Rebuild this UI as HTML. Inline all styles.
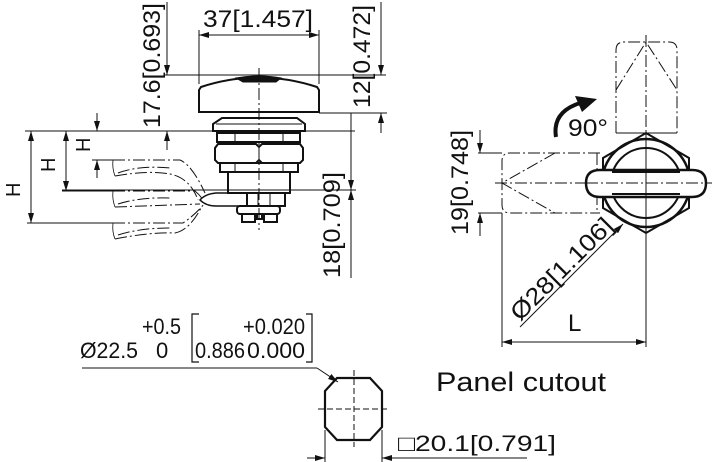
<!DOCTYPE html>
<html><head><meta charset="utf-8"><style>
html,body{margin:0;padding:0;background:#fff;}
svg{display:block;}
text{font-family:"Liberation Sans",sans-serif;fill:#111;}
</style></head><body>
<svg width="712" height="462" viewBox="0 0 712 462" xmlns="http://www.w3.org/2000/svg">
<defs>
<marker id="a" viewBox="0 0 10 6" refX="10" refY="3" markerWidth="10" markerHeight="6" orient="auto-start-reverse" markerUnits="userSpaceOnUse"><path d="M0,0 L10,3 L0,6 z" fill="#111"/></marker>
</defs>
<g stroke="#111" fill="none" stroke-width="1">
<line x1="259" y1="68" x2="259" y2="230" stroke-dasharray="12,3,2,3"/>
<line x1="164" y1="75" x2="386" y2="75"/>
<line x1="199" y1="30" x2="199" y2="84"/><line x1="319" y1="30" x2="319" y2="84"/>
<line x1="199" y1="35" x2="319" y2="35" marker-start="url(#a)" marker-end="url(#a)"/>
<line x1="319" y1="113" x2="387" y2="113"/>
<line x1="381" y1="2" x2="381" y2="75" marker-end="url(#a)"/>
<line x1="381" y1="133" x2="381" y2="113" marker-end="url(#a)"/>
<line x1="167" y1="2" x2="167" y2="75" marker-end="url(#a)"/>
<line x1="167" y1="150" x2="167" y2="131" marker-end="url(#a)"/>
<line x1="25" y1="131" x2="355" y2="131"/>
<line x1="62" y1="190" x2="356" y2="190"/>
<line x1="351" y1="113" x2="351" y2="190" marker-end="url(#a)"/>
<line x1="351" y1="278" x2="351" y2="190" marker-end="url(#a)"/>
<path d="M201,87 Q259,68 317,87 L319,90 L319,112 L199,112 L199,90 Z" stroke-width="2"/>
<path d="M236,78 Q259,74 281,78 L276,82 L243,82 Z" fill="#111" stroke-width="1"/>
<path d="M222,118 L297,118 L305,124 L305,131 L213,131 L213,124 Z" stroke-width="2"/>
<line x1="216" y1="124" x2="302" y2="124"/>
<rect x="217" y="133" width="83" height="9" stroke-width="2"/>
<line x1="235" y1="133" x2="235" y2="142"/><line x1="283" y1="133" x2="283" y2="142"/>
<path d="M218,144 L256,144 L259,147 L262,144 L300,144 L303,148 L303,160 L300,163 L262,163 L259,160 L256,163 L218,163 L215,160 L215,148 Z" stroke-width="2"/>
<rect x="220" y="163" width="78" height="9" stroke-width="2"/>
<line x1="235" y1="163" x2="235" y2="172"/><line x1="283" y1="163" x2="283" y2="172"/>
<rect x="228" y="172" width="62" height="21" stroke-width="2"/>
<rect x="247" y="193" width="38" height="13" stroke-width="2"/>
<line x1="258" y1="193" x2="258" y2="206"/><line x1="270" y1="193" x2="270" y2="206"/>
<rect x="237" y="206" width="43" height="8" rx="3" stroke-width="2"/>
<path d="M242,214 L242,222 L255,222 L255,214 M257,214 L257,219 L262,219 L262,214 M264,214 L264,222 L277,222 L277,214" stroke-width="2"/>
<path d="M246,193 L216,193 Q205,194 200,200 Q206,206 216,206 L246,206" stroke-width="1.5"/>
<line x1="97" y1="113" x2="97" y2="131" marker-end="url(#a)"/>
<line x1="97" y1="178" x2="97" y2="160" marker-end="url(#a)"/>
<line x1="92" y1="160" x2="115" y2="160"/>
<line x1="66" y1="131" x2="66" y2="191" marker-start="url(#a)" marker-end="url(#a)"/>
<line x1="31" y1="131" x2="31" y2="223" marker-start="url(#a)" marker-end="url(#a)"/>
<line x1="62" y1="191" x2="115" y2="191"/>
<line x1="27" y1="223" x2="115" y2="223"/>
<g stroke-dasharray="12,3,2,3">
<path d="M113,160 L180,160 Q192,165 205,193"/>
<path d="M113,191 L195,191 Q200,195 203,200"/>
<path d="M113,223 L183,223 Q195,215 205,203"/>
<path d="M118,173 Q140,165 170,168"/>
<path d="M118,204 Q140,197 170,198"/>
<path d="M118,235 Q140,228 170,228"/>
<path d="M115,176 Q150,170 170,174 Q190,178 198,200"/>
<path d="M115,207 L200,204"/>
<path d="M115,239 Q150,232 175,233 Q190,230 202,206"/>
</g>
<path d="M113,160 Q112,168 115,176 M113,191 Q112,199 115,207 M113,223 Q112,232 115,239" stroke-width="0.8"/>

<g stroke-dasharray="12,3,2,3">
<path d="M616,133 L616,50 Q616,42 624,42 L669,42 Q677,42 677,50 L677,133"/>
<path d="M616,90 L646,42 L677,90"/>
<path d="M600,153 L510,153 Q502,153 502,161 L502,205 Q502,213 510,213 L600,213"/>
<path d="M555,153 L502,183 L555,213"/>
<line x1="597" y1="153" x2="597" y2="213"/>
<line x1="495" y1="183" x2="712" y2="183"/>
<line x1="646" y1="35" x2="646" y2="236"/>
</g>
<line x1="616" y1="133" x2="677" y2="133"/>
<polygon points="646,133 689,158 689,208 646,233 603,208 603,158" stroke-width="2"/>
<circle cx="646" cy="183" r="44" stroke-width="2.5"/>
<circle cx="646" cy="183" r="35" stroke-width="2" fill="#fff"/>
<path d="M600,170 L692,170 Q706,170 706,183 Q706,197 692,197 L600,197 Q586,197 586,183 Q586,170 600,170 Z" stroke-width="2.5" fill="#fff"/>
<line x1="612" y1="172" x2="680" y2="172" stroke-width="2"/>
<line x1="612" y1="194" x2="680" y2="194" stroke-width="2"/>
<line x1="586" y1="183" x2="712" y2="183" stroke-dasharray="12,3,2,3"/>
<line x1="646" y1="133" x2="646" y2="233"/>
<line x1="478" y1="153" x2="502" y2="153"/><line x1="478" y1="213" x2="502" y2="213"/>
<line x1="480" y1="130" x2="480" y2="153" marker-end="url(#a)"/>
<line x1="480" y1="236" x2="480" y2="213" marker-end="url(#a)"/>
<line x1="502" y1="213" x2="502" y2="347"/><line x1="646" y1="233" x2="646" y2="347"/>
<line x1="502" y1="342" x2="646" y2="342" marker-start="url(#a)" marker-end="url(#a)"/>
<line x1="520" y1="327" x2="623" y2="224" marker-end="url(#a)"/>
<path d="M556,137 Q552,112 580,103" stroke-width="4"/>
<path d="M575,96 L597,99 L582,112 Z" fill="#111" stroke="none"/>

<line x1="82" y1="368" x2="317" y2="368"/>
<line x1="317" y1="368" x2="338" y2="382" marker-end="url(#a)"/>
<polygon points="337,378 370,378 382,391 382,427 370,440 337,440 325,427 325,391" stroke-width="2.2"/>
<line x1="318" y1="409" x2="390" y2="409" stroke-dasharray="6,3"/>
<line x1="354" y1="370" x2="354" y2="447" stroke-dasharray="6,3"/>
<line x1="325" y1="430" x2="325" y2="462"/><line x1="382" y1="430" x2="382" y2="462"/>
<line x1="307" y1="458" x2="325" y2="458" marker-end="url(#a)"/>
<line x1="527" y1="458" x2="382" y2="458" marker-end="url(#a)"/>
<!-- brackets -->
<path d="M199,314 L192,314 L192,362 L199,362 M306,314 L312,314 L312,362 L306,362" stroke-width="1.2"/>
</g>
<g font-size="24">
<text x="203" y="27" textLength="110" lengthAdjust="spacingAndGlyphs">37[1.457]</text>
<text transform="translate(370,108) rotate(-90)" textLength="103" lengthAdjust="spacingAndGlyphs">12[0.472]</text>
<text transform="translate(160,128) rotate(-90)" textLength="125" lengthAdjust="spacingAndGlyphs">17.6[0.693]</text>
<text transform="translate(340,278) rotate(-90)" textLength="106" lengthAdjust="spacingAndGlyphs">18[0.709]</text>
<text transform="translate(468,235) rotate(-90)" textLength="105" lengthAdjust="spacingAndGlyphs">19[0.748]</text>
<text transform="translate(520,322) rotate(-45)" textLength="134" lengthAdjust="spacingAndGlyphs">Ø28[1.106]</text>
<text x="568" y="331">L</text>
<text x="568" y="136" textLength="40" lengthAdjust="spacingAndGlyphs">90°</text>
</g>
<g font-size="20">
<text transform="translate(90,152) rotate(-90)">H</text>
<text transform="translate(55,172) rotate(-90)">H</text>
<text transform="translate(20,197) rotate(-90)">H</text>
</g>
<g font-size="22">
<text x="80" y="358" textLength="58" lengthAdjust="spacingAndGlyphs">Ø22.5</text>
<text x="142" y="334" textLength="39" lengthAdjust="spacingAndGlyphs">+0.5</text>
<text x="156" y="358">0</text>
<text x="195" y="358" textLength="50" lengthAdjust="spacingAndGlyphs">0.886</text>
<text x="243" y="334" textLength="62" lengthAdjust="spacingAndGlyphs">+0.020</text>
<text x="247" y="358" textLength="58" lengthAdjust="spacingAndGlyphs">0.000</text>
<text x="436" y="391" font-size="27" textLength="170" lengthAdjust="spacingAndGlyphs">Panel cutout</text>
<text x="398" y="451" textLength="158" lengthAdjust="spacingAndGlyphs">□20.1[0.791]</text>
</g>
</svg>
</body></html>
